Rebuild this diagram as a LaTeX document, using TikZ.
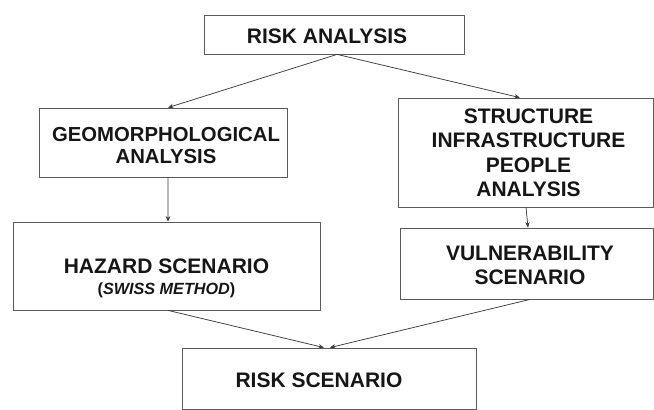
\documentclass[tikz,border=0pt]{standalone}
\usepackage{fontspec}
\setmainfont{Liberation Sans}
\usetikzlibrary{calc,arrows.meta}
\definecolor{boxline}{HTML}{5A5A5A}
\definecolor{arrline}{HTML}{3C3C3C}
\definecolor{txtcol}{HTML}{161616}
\tikzset{
  box/.style={draw=boxline, line width=0.8pt, rectangle, inner sep=0pt},
  lbl/.style={inner sep=0pt, align=center, text=txtcol, font=\bfseries\fontsize{21}{24}\selectfont},
  conn/.style={draw=arrline, line width=0.75pt, -{Stealth[length=5.5pt,width=4.5pt]}}
}
\begin{document}
\begin{tikzpicture}[x=1pt,y=-1pt]
\useasboundingbox (0,0) rectangle (654,410);
% boxes
\node[box, minimum width=260pt, minimum height=39pt] (top) at (334,34.5) {};
\node[box, minimum width=248pt, minimum height=69pt] (geo) at (163,142.5) {};
\node[box, minimum width=307pt, minimum height=88pt] (haz) at (166.5,266) {};
\node[box, minimum width=255pt, minimum height=109pt] (str) at (525.5,152.5) {};
\node[box, minimum width=253pt, minimum height=71pt] (vul) at (526.5,263.5) {};
\node[box, minimum width=294pt, minimum height=61pt] (risk) at (329,378.5) {};
% labels
\node[lbl] (topt) at (327,36.5) {RISK ANALYSIS};
\node[lbl, font=\bfseries\fontsize{20.3}{22}\selectfont] (geot) at (166,146) {GEOMORPHOLOGICAL\\ANALYSIS};
\node[lbl] (hazt) at (166.5,278) {HAZARD SCENARIO\\[-3pt]{\fontsize{16.2}{18}\selectfont(\textit{SWISS METHOD})}};
\node[lbl, font=\bfseries\fontsize{21}{24.5}\selectfont] (strt) at (528.5,153) {STRUCTURE\\INFRASTRUCTURE\\PEOPLE\\ANALYSIS};
\node[lbl] (vult) at (530,265) {VULNERABILITY\\SCENARIO};
\node[lbl] (riskt) at (319,380) {RISK SCENARIO};
% connectors
\draw[conn] ($(top.south west)!0.512!(top.south east)$) -- ($(geo.north west)!0.52!(geo.north east)$);
\draw[conn] ($(top.south west)!0.512!(top.south east)$) -- ($(str.north west)!0.478!(str.north east)$);
\draw[conn] ($(geo.south west)!0.52!(geo.south east)$) -- ($(haz.north west)!0.505!(haz.north east)$);
\draw[conn] ($(str.south west)!0.502!(str.south east)$) -- ($(vul.north west)!0.506!(vul.north east)$);
\draw[conn] ($(haz.south west)!0.505!(haz.south east)$) -- ($(risk.north west)!0.483!(risk.north east)$);
\draw[conn] ($(vul.south west)!0.514!(vul.south east)$) -- ($(risk.north west)!0.503!(risk.north east)$);
\end{tikzpicture}
\end{document}
